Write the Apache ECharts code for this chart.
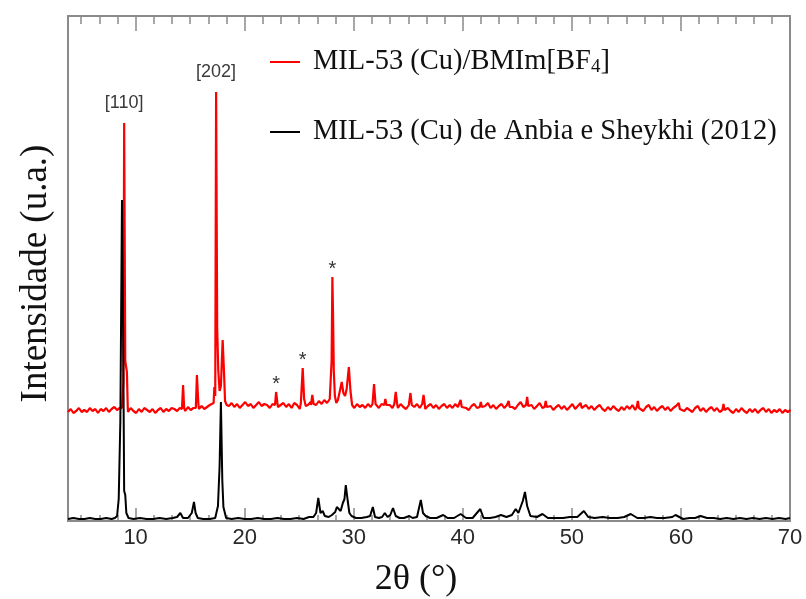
<!DOCTYPE html>
<html>
<head>
<meta charset="utf-8">
<script src="https://cdn.jsdelivr.net/npm/echarts@6/dist/echarts.min.js"></script>
<style>
  html, body { margin: 0; padding: 0; background: #fff; }
  #chart { width: 806px; height: 599px; }
</style>
</head>
<body>
<div id="chart"></div>
<script>
// X-ray diffraction patterns, 2θ in degrees vs intensity (arbitrary units)

const xMin = 3.8, xMax = 70;
const xTickLabels = [10, 20, 30, 40, 50, 60, 70];

const seriesNames = [
  'MIL-53 (Cu)/BMIm[BF4]',
  'MIL-53 (Cu) de Anbia e Sheykhi (2012)'
];

// MIL-53 (Cu)/BMIm[BF4]: background trace sampled every 0.25° from 3.8°
const redBaseStart = 3.8, redBaseStep = 0.25;
const redBaseline = [
  109,112,108,110,113,109,111,109,113,110, 112,108,112,110,113,109,112,114,111,113,
  112,110,109,113,110,108,112,109,113,111, 109,112,108,111,113,109,112,110,113,112,
  110,113,111,110,114,111,113,115,112,115, 112,114,116,114,118,115,116,113,117,115,
  118,114,117,113,116,119,115,117,113,116, 119,115,117,116,113,117,119,114,116,118,
  114,117,113,118,116,112,117,114,116,119, 119,116,120,117,121,118,122,120,117,121,
  120,117,117,114,116,113,117,114,116,113, 117,114,118,115,113,117,114,118,116,113,
  116,113,117,114,112,116,118,114,117,113, 116,112,115,117,113,116,112,115,117,113,
  116,113,117,114,112,116,113,111,115,117, 113,116,112,115,118,113,116,112,115,117,
  113,116,118,114,112,116,119,114,117,113, 116,112,115,118,113,116,112,115,111,114,
  116,112,115,111,114,117,112,115,111,114, 116,112,115,111,114,116,112,110,114,111,
  115,112,110,114,111,115,112,116,111,114, 112,110,114,116,111,114,110,113,115,111,
  114,110,113,115,111,114,110,113,111,109, 113,115,110,113,109,112,114,110,113,109,
  112,109,113,110,108,112,109,113,110,108, 112,109,112,108,111,113,109,112,108,111,
  109,112,108,111,109,111
];

// MIL-53 (Cu)/BMIm[BF4]: reflections, [2θ, intensity] per peak
const redPeaks = [
  [[8.75,113],[8.88,140],[8.95,398],[9.05,160],[9.2,149],[9.28,114]],
  [[14.25,112],[14.35,136],[14.45,113]],
  [[15.52,113],[15.62,146],[15.75,118]],
  [[16.95,115],[17.15,118],[17.22,134],[17.3,125],[17.38,429],[17.48,192],[17.58,150],
   [17.7,130],[17.82,135],[17.98,181],[18.1,150],[18.2,120],[18.35,116]],
  [[22.78,116],[22.88,129],[23.0,118]],
  [[25.15,118],[25.32,153],[25.45,122],[25.6,115]],
  [[26.08,116],[26.2,126],[26.32,117]],
  [[27.85,124],[27.97,160],[28.04,244],[28.1,208],[28.17,150],[28.27,125],[28.4,118]],
  [[28.7,122],[28.9,139],[29.05,128],[29.2,125],[29.35,132],[29.55,154],[29.7,130],[29.85,116]],
  [[31.72,117],[31.86,137],[32.0,117]],
  [[32.8,116],[32.9,122],[33.0,116]],
  [[33.72,117],[33.85,129],[33.98,117]],
  [[35.08,117],[35.2,128],[35.32,116]],
  [[36.28,117],[36.4,126],[36.52,116]],
  [[39.7,115],[39.8,121],[39.9,114]],
  [[41.55,114],[41.65,119],[41.75,114]],
  [[44.1,115],[44.2,120],[44.3,114]],
  [[45.8,116],[45.9,124],[46.0,115]],
  [[47.5,114],[47.6,120],[47.7,114]],
  [[50.7,113],[50.8,118],[50.9,113]],
  [[55.95,114],[56.05,120],[56.15,113]],
  [[59.7,113],[59.8,118],[59.9,112]],
  [[63.8,111],[63.9,117],[64.0,111]]
];

// MIL-53 (Cu) de Anbia e Sheykhi (2012): [2θ, intensity]
const blackTrace = [
  [3.8,2],[4.3,3],[4.8,2],[5.3,2],[5.8,3],[6.3,2],[6.8,2],[7.3,3],[7.8,2],[8.1,3],
  [8.3,5],[8.45,22],[8.6,100],[8.75,321],[8.85,200],[8.95,30],[9.05,26],[9.15,8],[9.35,3],
  [9.8,2],[10.4,3],[11.0,2],[11.6,2],[12.2,3],[12.8,2],[13.4,3],[13.8,4],[14.1,8],[14.35,3],
  [14.8,3],[15.15,8],[15.35,19],[15.5,8],[15.7,3],[16.2,2],[16.8,2],[17.3,3],[17.55,15],
  [17.7,55],[17.82,119],[17.95,40],[18.05,14],[18.3,3],[18.8,2],[19.4,3],[20.0,2],[20.6,2],
  [21.2,3],[21.8,2],[22.4,2],[23.0,3],[23.6,2],[24.2,2],[24.8,3],[25.4,2],[25.9,4],[26.3,4],
  [26.55,8],[26.75,23],[26.95,8],[27.15,10],[27.35,5],[27.7,4],[28.0,6],[28.3,9],[28.45,14],
  [28.6,16],[28.8,10],[29.0,18],[29.15,22],[29.27,36],[29.45,20],[29.6,8],[29.8,5],[30.2,3],
  [30.7,3],[31.2,4],[31.5,5],[31.75,14],[31.95,4],[32.3,3],[32.6,4],[32.85,8],[33.1,4],
  [33.35,6],[33.6,13],[33.85,5],[34.2,3],[34.6,3],[35.1,5],[35.4,3],[35.8,4],[36.15,21],
  [36.35,8],[36.6,5],[37.0,3],[37.6,3],[38.2,6],[38.6,3],[39.2,3],[39.8,7],[40.3,3],[40.9,3],
  [41.6,12],[41.9,3],[42.5,3],[43.0,4],[43.5,6],[44.0,4],[44.5,6],[44.85,12],[45.1,8],
  [45.5,20],[45.7,29],[45.9,15],[46.2,5],[46.8,4],[47.3,7],[47.8,3],[48.5,3],[49.2,3],
  [49.8,4],[50.5,4],[51.1,10],[51.5,4],[52.1,3],[52.8,4],[53.5,3],[54.2,3],[54.8,4],[55.4,7],
  [56.0,3],[56.6,3],[57.2,4],[57.8,3],[58.5,3],[59.2,4],[59.5,6],[60.2,2],[60.8,3],[61.3,3],
  [61.8,5],[62.4,3],[63.0,3],[63.6,2],[64.2,3],[64.8,2],[65.4,3],[66.0,2],[66.6,3],[67.2,2],
  [67.8,3],[68.4,2],[69.0,3],[69.6,2],[70.0,3]
];

// Peak annotations on the MIL-53 (Cu)/BMIm[BF4] pattern
const peakNoteText = ['[110]', '[202]', '*', '*', '*'];
const peakNoteAt = [8.95, 17.38, 22.88, 25.32, 28.04];

// Assemble the red trace: background samples outside peak windows plus peak points
const redTrace = [];
redBaseline.forEach((v, i) => {
  const x = +(redBaseStart + i * redBaseStep).toFixed(3);
  const inPeak = redPeaks.some(g => x >= g[0][0] && x <= g[g.length - 1][0]);
  if (!inPeak) redTrace.push([x, v]);
});
redPeaks.forEach(g => g.forEach(p => redTrace.push(p)));
redTrace.sort((a, b) => a[0] - b[0]);

function redAt(x) {
  const p = redTrace.find(d => d[0] === x);
  return p ? p[1] : null;
}

// Minor tick positions: six subdivisions per 10°
const minorTicks = [];
for (let d = 0; d <= 70; d += 10) {
  for (let j = 1; j < 6; j++) {
    const v = d + j * 10 / 6;
    if (v > xMin && v < xMax) minorTicks.push(+v.toFixed(4));
  }
}

const frameColor = '#8a8a8a';
const serif = '"Liberation Serif", "Times New Roman", serif';
const sans = '"Liberation Sans", Arial, sans-serif';

function tickAxis(position, values, length, showLabels) {
  return {
    type: 'value', position, min: xMin, max: xMax,
    axisLine: { show: false },
    splitLine: { show: false },
    axisTick: {
      show: true, inside: true, length, customValues: values,
      lineStyle: { color: frameColor, width: 1.5 }
    },
    axisLabel: showLabels ? {
      show: true, customValues: values, margin: 6,
      fontFamily: sans, fontSize: 22, color: '#2a2a2a'
    } : { show: false }
  };
}

const chart = echarts.init(document.getElementById('chart'), null, { renderer: 'canvas' });

const mainX = tickAxis('bottom', xTickLabels, 13, true);
mainX.name = '2θ (°)';
mainX.nameLocation = 'middle';
mainX.nameGap = 41;
mainX.nameTextStyle = { fontFamily: serif, fontSize: 36, color: '#111', padding: [0, 26, 0, 0] };

chart.setOption({
  animation: false,
  backgroundColor: '#fff',
  grid: {
    left: 68, right: 16, top: 16, bottom: 78,
    containLabel: false, outerBoundsMode: 'none',
    show: true, borderColor: frameColor, borderWidth: 2, backgroundColor: 'transparent'
  },
  legend: {
    orient: 'vertical', left: 265, top: 42,
    itemWidth: 30, itemHeight: 2, itemGap: 40,
    icon: 'rect',
    data: seriesNames,
    formatter: name => name === seriesNames[0]
      ? '{a|MIL-53 (Cu)/BMIm[BF}{s|4}{b|]}'
      : '{a|' + name + '}',
    textStyle: {
      fontFamily: serif, fontSize: 28.5, color: '#111', lineHeight: 30,
      rich: {
        a: { fontFamily: serif, fontSize: 28.5, color: '#111', lineHeight: 30, padding: [0, 0, 0, 8] },
        b: { fontFamily: serif, fontSize: 28.5, color: '#111', lineHeight: 30 },
        s: { fontFamily: serif, fontSize: 19, color: '#111', lineHeight: 30, verticalAlign: 'bottom', padding: [6, 0, 0, 0] }
      }
    }
  },
  xAxis: [
    mainX,
    tickAxis('bottom', minorTicks, 6, false),
    tickAxis('top', xTickLabels, 15, false),
    tickAxis('top', minorTicks, 8, false)
  ],
  yAxis: {
    type: 'value', min: 0, max: 505,
    axisLine: { show: false }, axisTick: { show: false },
    axisLabel: { show: false }, splitLine: { show: false },
    name: 'Intensidade (u.a.)',
    nameLocation: 'middle', nameRotate: 90, nameGap: 13,
    nameTextStyle: { fontFamily: serif, fontSize: 37, color: '#111', padding: [0, 10, 0, 0] }
  },
  series: [
    {
      name: seriesNames[0], type: 'line', data: redTrace,
      showSymbol: false, symbol: 'none', clip: true,
      lineStyle: { color: '#ff0000', width: 2.2 },
      itemStyle: { color: '#ff0000' },
      z: 2,
      markPoint: {
        symbol: 'circle', symbolSize: 1,
        itemStyle: { color: 'rgba(0,0,0,0)' },
        data: peakNoteText.map((t, i) => ({
          coord: [peakNoteAt[i], redAt(peakNoteAt[i])],
          label: t === '*'
            ? { show: true, formatter: t, position: 'top', distance: -3,
                fontFamily: sans, fontSize: 20, color: '#333' }
            : { show: true, formatter: t, position: 'top', distance: 10,
                fontFamily: sans, fontSize: 18, color: '#3a3a3a' }
        }))
      }
    },
    {
      name: seriesNames[1], type: 'line', data: blackTrace,
      showSymbol: false, symbol: 'none', clip: true,
      lineStyle: { color: '#000000', width: 2 },
      itemStyle: { color: '#000000' },
      z: 3
    }
  ]
});
</script>
</body>
</html>
